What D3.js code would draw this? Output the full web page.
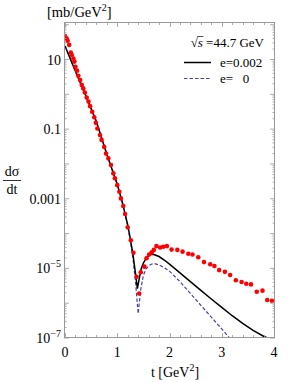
<!DOCTYPE html>
<html>
<head>
<meta charset="utf-8">
<script src="https://cdn.jsdelivr.net/npm/d3@7"></script>
<style>
  body { margin: 0; background: #fff; }
  text { font-family: "Liberation Serif", "DejaVu Serif", serif; }
</style>
</head>
<body>
<div id="chart"></div>
<script>
// measured points (t in GeV^2, log10 of dsigma/dt)
const dataT = [0, .03, .05, .08, .11, .13, .16, .18, .20, .23, .255, .29, .32, .35, .38, .415, .45, .48, .52, .56, .59, .62, .67, .70, .75, .785, .83, .88, .925, .955, 1.0, 1.04, 1.07, 1.115, 1.15, 1.20,
  1.26, 1.31, 1.37, 1.42, 1.45, 1.52, 1.56, 1.61, 1.66, 1.70, 1.75, 1.82, 1.88, 1.95, 2.04, 2.15, 2.25, 2.36, 2.44, 2.55, 2.66, 2.78, 2.86, 2.95, 3.06, 3.16, 3.27, 3.38, 3.47, 3.56, 3.67, 3.78, 3.87, 3.96];
const dataLog = [1.675, 1.61, 1.54, 1.42, 1.20, 1.13, 1.03, 0.94, 0.79, 0.68, 0.53, 0.41, 0.27, 0.17, 0.05, -0.09, -0.21, -0.34, -0.5, -0.66, -0.82, -0.98, -1.17, -1.31, -1.51, -1.70, -1.84, -2.03, -2.27, -2.41, -2.61, -2.80, -2.99, -3.21, -3.44, -3.82,
  -4.19, -4.55, -5.24, -5.72, -5.11, -4.95, -4.71, -4.60, -4.54, -4.47, -4.36, -4.40, -4.38, -4.36, -4.46, -4.47, -4.52, -4.58, -4.60, -4.68, -4.82, -4.88, -4.93, -5.05, -5.10, -5.19, -5.34, -5.39, -5.44, -5.46, -5.67, -5.64, -5.91, -5.93];

// model curve e = 0.002 (solid)
const solidT = [0, 0.2, 0.4, 0.6, 0.8, 1.0, 1.1, 1.2, 1.25, 1.3, 1.35, 1.385, 1.42, 1.46, 1.5, 1.55, 1.6, 1.65, 1.7, 1.8, 1.9, 2.0, 2.2, 2.4, 2.6, 2.8, 3.0, 3.2, 3.4, 3.6, 3.8, 4.0];
const solidLog = [1.39, 0.66, -0.04, -0.78, -1.72, -2.58, -3.12, -3.75, -4.15, -4.6, -5.15, -5.58, -5.3, -5.0, -4.85, -4.72, -4.64, -4.6, -4.6, -4.66, -4.76, -4.88, -5.13, -5.38, -5.63, -5.88, -6.12, -6.36, -6.58, -6.78, -6.95, -7.08];

// model curve e = 0 (dashed)
const dashT = [0, 0.2, 0.4, 0.6, 0.8, 1.0, 1.1, 1.2, 1.25, 1.3, 1.35, 1.4, 1.45, 1.5, 1.55, 1.6, 1.65, 1.7, 1.8, 1.9, 2.0, 2.2, 2.4, 2.6, 2.8, 3.0, 3.15, 3.3];
const dashLog = [1.39, 0.66, -0.04, -0.78, -1.72, -2.58, -3.12, -3.78, -4.2, -4.7, -5.4, -6.3, -5.6, -5.2, -5.02, -4.93, -4.88, -4.86, -4.9, -4.98, -5.08, -5.38, -5.72, -6.06, -6.4, -6.74, -7.0, -7.25];

const xTicks = [0, 1, 2, 3, 4];
const yLabelDecades = [1, -1, -3, -5, -7];
const yLabelText = {"1": "10", "-1": "0.1", "-3": "0.001"};

const width = 293, height = 382;
const frame = {left: 64, right: 275, top: 22, bottom: 338};

const svg = d3.select("#chart").append("svg")
    .attr("width", width)
    .attr("height", height);

const x = d3.scaleLinear().domain([0, 4]).range([65, 274]);
const y = d3.scaleLog().domain([1e-7, 10]).range([338, 59.5]);

svg.append("clipPath").attr("id", "clip")
  .append("rect")
    .attr("x", frame.left).attr("y", frame.top)
    .attr("width", frame.right - frame.left).attr("height", frame.bottom - frame.top);

const plot = svg.append("g").attr("clip-path", "url(#clip)");

const line = d3.line()
    .x(d => x(d[0]))
    .y(d => y(Math.pow(10, d[1])));

const blue = "#4444a6";

plot.append("path")
    .datum(dashT.map((t, i) => [t, dashLog[i]]))
    .attr("d", line)
    .attr("fill", "none")
    .attr("stroke", blue)
    .attr("stroke-width", 1.2)
    .attr("stroke-dasharray", "3.5,2");

plot.append("path")
    .datum(solidT.map((t, i) => [t, solidLog[i]]))
    .attr("d", line)
    .attr("fill", "none")
    .attr("stroke", "#000")
    .attr("stroke-width", 1.5);

plot.selectAll("circle")
    .data(dataT.map((t, i) => [t, dataLog[i]]))
  .join("circle")
    .attr("cx", d => x(d[0]))
    .attr("cy", d => y(Math.pow(10, d[1])))
    .attr("r", 2.3)
    .attr("fill", "#f00");

// frame and ticks
const axisColor = "#999";
svg.append("rect")
    .attr("x", frame.left + 0.5).attr("y", frame.top + 0.5)
    .attr("width", frame.right - frame.left - 1).attr("height", frame.bottom - frame.top - 1)
    .attr("fill", "none")
    .attr("stroke", axisColor)
    .attr("stroke-width", 1);

const ticks = svg.append("g").attr("stroke", axisColor).attr("stroke-width", 0.8);

d3.range(0, 4.001, 0.2).forEach(v => {
  const major = Math.abs(v - Math.round(v)) < 1e-6;
  const len = major ? 5 : 3;
  const px = Math.round(x(v)) + 0.5;
  ticks.append("line").attr("x1", px).attr("x2", px).attr("y1", frame.bottom).attr("y2", frame.bottom - len);
  ticks.append("line").attr("x1", px).attr("x2", px).attr("y1", frame.top).attr("y2", frame.top + len);
});

for (let e = -7; e <= 2; e++) {
  for (let k = 1; k <= 9; k++) {
    const py = y(k * Math.pow(10, e));
    if (py < frame.top || py > frame.bottom) continue;
    const len = k === 1 ? 5 : 2.5;
    ticks.append("line").attr("x1", frame.left).attr("x2", frame.left + len).attr("y1", py).attr("y2", py);
    ticks.append("line").attr("x1", frame.right).attr("x2", frame.right - len).attr("y1", py).attr("y2", py);
  }
}

// tick labels
svg.append("g").selectAll("text")
    .data(xTicks)
  .join("text")
    .attr("x", d => x(d))
    .attr("y", 357)
    .attr("text-anchor", "middle")
    .attr("font-size", 14)
    .text(d => d);

const yl = svg.append("g");
yLabelDecades.forEach(e => {
  const t = yl.append("text")
      .attr("x", 61)
      .attr("y", y(Math.pow(10, e)) + 5)
      .attr("text-anchor", "end")
      .attr("font-size", 14);
  if (yLabelText[e]) {
    t.text(yLabelText[e]);
  } else {
    t.append("tspan").text("10");
    t.append("tspan").attr("dy", -6).attr("font-size", 10).text("\u2212" + (-e));
  }
});

// axis titles
const unit = svg.append("text").attr("x", 47).attr("y", 17).attr("font-size", 14.5);
unit.append("tspan").text("[mb/GeV");
unit.append("tspan").attr("dy", -6).attr("font-size", 10).text("2");
unit.append("tspan").attr("dy", 6).text("]");

svg.append("text").attr("x", 12).attr("y", 176).attr("text-anchor", "middle").attr("font-size", 14)
    .text("d\u03c3");
svg.append("line").attr("x1", 3).attr("x2", 21).attr("y1", 180.5).attr("y2", 180.5)
    .attr("stroke", "#000").attr("stroke-width", 0.8);
svg.append("text").attr("x", 12).attr("y", 194).attr("text-anchor", "middle").attr("font-size", 14)
    .text("dt");

const xt = svg.append("text").attr("x", 175).attr("y", 377).attr("text-anchor", "middle").attr("font-size", 14);
xt.append("tspan").text("t [GeV");
xt.append("tspan").attr("dy", -6).attr("font-size", 10).text("2");
xt.append("tspan").attr("dy", 6).text("]");

// legend
const lg = svg.append("g").attr("font-size", 13);
const s1 = lg.append("text").attr("x", 264).attr("y", 47).attr("text-anchor", "end");
s1.append("tspan").text("\u221a");
s1.append("tspan").attr("font-style", "italic").text("s");
s1.append("tspan").text(" =44.7 GeV");
// radical bar over s
const ext0 = s1.node().getExtentOfChar(0);
const ext1 = s1.node().getExtentOfChar(1);
lg.append("line")
    .attr("x1", ext0.x + ext0.width - 0.5).attr("x2", ext1.x + ext1.width + 0.5)
    .attr("y1", ext0.y + 1.5).attr("y2", ext0.y + 1.5)
    .attr("stroke", "#000").attr("stroke-width", 0.7);

lg.append("line").attr("x1", 184).attr("x2", 211).attr("y1", 62.5).attr("y2", 62.5)
    .attr("stroke", "#000").attr("stroke-width", 1.5);
lg.append("text").attr("x", 220).attr("y", 67).text("e=0.002");

lg.append("line").attr("x1", 184).attr("x2", 211).attr("y1", 78.5).attr("y2", 78.5)
    .attr("stroke", blue).attr("stroke-width", 1.2).attr("stroke-dasharray", "3.5,2");
lg.append("text").attr("x", 220).attr("y", 83).attr("xml:space", "preserve").text("e=   0");
</script>
</body>
</html>
